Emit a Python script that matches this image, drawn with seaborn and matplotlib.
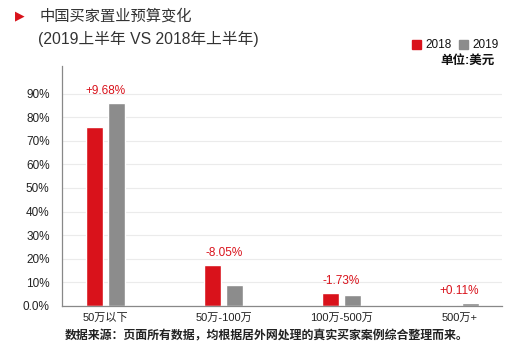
import matplotlib
matplotlib.use("Agg")
import matplotlib.pyplot as plt
import seaborn as sns
import pandas as pd
from matplotlib.ticker import FuncFormatter
from matplotlib.patches import Rectangle

categories = ["50万以下", "50万-100万", "100万-500万", "500万+"]
years = ["2018", "2019"]
values_2018 = [76.0, 17.3, 5.4, 0.6]
values_2019 = [85.8, 9.1, 4.5, 1.1]
change_labels = ["+9.68%", "-8.05%", "-1.73%", "+0.11%"]
y_ticks = [0, 10, 20, 30, 40, 50, 60, 70, 80, 90]

RED = "#D9121B"
GRAY = "#8C8C8C"
FAM = ["Liberation Sans", "Noto Sans CJK SC", "DejaVu Sans"]

df = pd.DataFrame({
    "cat": categories * 2,
    "year": [years[0]] * len(categories) + [years[1]] * len(categories),
    "val": values_2018 + values_2019,
})

sns.set_theme(style="white")
plt.rcParams["font.family"] = FAM

fig = plt.figure(figsize=(5.17, 3.60), dpi=100)
ax = fig.add_axes([0.12, 0.15, 0.851, 0.667])

sns.barplot(data=df, x="cat", y="val", hue="year", order=categories,
            hue_order=years, palette=[RED, GRAY], width=0.372, gap=0.23,
            saturation=1, ax=ax, legend=False)

ax.set_ylim(0, 101.7)
ax.set_xlim(-0.37, 3.36)
ax.set_yticks(y_ticks)
ax.yaxis.set_major_formatter(FuncFormatter(lambda v, p: "0.0%" if v == 0 else f"{v:.0f}%"))
ax.yaxis.grid(True, color="#EBEBEB", linewidth=0.8)
ax.set_axisbelow(True)
ax.set_xlabel("")
ax.set_ylabel("")
for s in ["top", "right"]:
    ax.spines[s].set_visible(False)
for s in ["left", "bottom"]:
    ax.spines[s].set_color("#888888")
    ax.spines[s].set_linewidth(0.9)
ax.tick_params(axis="y", length=0, pad=9, labelsize=8.5, labelcolor="#222222")
ax.tick_params(axis="x", length=0, pad=5, labelsize=8, labelcolor="#222222")

for i, lab in enumerate(change_labels):
    top = max(values_2018[i], values_2019[i])
    ax.annotate(lab, xy=(i, top), xytext=(0, 9), textcoords="offset points",
                ha="center", va="center", color=RED, fontsize=8.5)

# Title block
fig.text(0.028, 0.955, "▶", color=RED, fontsize=9, va="center", ha="left",
         family=["DejaVu Sans"])
fig.text(0.077, 0.955, "中国买家置业预算变化", fontsize=11, color="#333333",
         va="center", ha="left", family=["Noto Sans CJK SC"])
fig.text(0.074, 0.893, "(2019上半年 VS 2018年上半年)", fontsize=11.3, color="#333333",
         va="center", ha="left")

# Legend
fig.patches.append(Rectangle((412 / 517, 1 - 49 / 360), 9 / 517, 9 / 360,
                             transform=fig.transFigure, color=RED))
fig.text(425 / 517, 1 - 44.5 / 360, "2018", fontsize=8.5, va="center", ha="left", color="#111111")
fig.patches.append(Rectangle((459 / 517, 1 - 49 / 360), 9 / 517, 9 / 360,
                             transform=fig.transFigure, color=GRAY))
fig.text(472 / 517, 1 - 44.5 / 360, "2019", fontsize=8.5, va="center", ha="left", color="#111111")
fig.text(495 / 517, 1 - 61 / 360, "单位:美元", fontsize=9, va="center", ha="right",
         color="#111111", fontweight="bold")

# Footer
fig.text(267 / 517, 1 - 336 / 360, "数据来源：页面所有数据，均根据居外网处理的真实买家案例综合整理而来。",
         fontsize=8.6, fontweight="bold", ha="center", va="center", color="#222222",
         family=["Noto Sans CJK SC"])

fig.savefig("out.png", dpi=100, facecolor="white")
